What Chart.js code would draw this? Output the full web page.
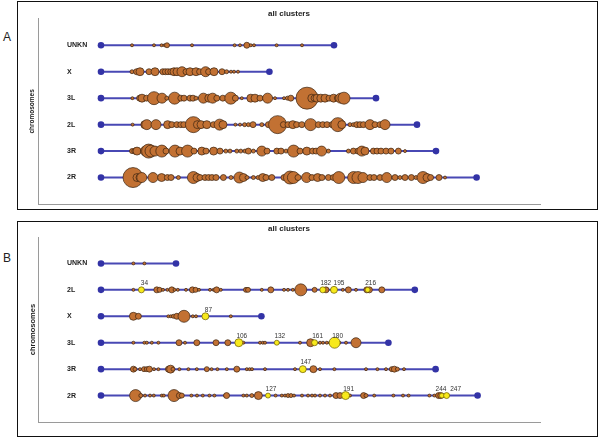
<!DOCTYPE html>
<html>
<head>
<meta charset="utf-8">
<script src="https://cdn.jsdelivr.net/npm/chart.js@4.4.0/dist/chart.umd.min.js"></script>
<style>
  body { margin: 0; background: #fff; width: 600px; height: 439px; position: relative; overflow: hidden;
         font-family: 'Liberation Sans', Arial, sans-serif; }
  .panel { position: absolute; left: 17px; width: 579px; border: 1.6px solid #111; }
  #panelA { top: 0.5px; height: 207px; }
  #panelB { top: 220.5px; height: 214.5px; }
  .tag { position: absolute; left: 3px; font-size: 12px; color: #222; }
  canvas { position: absolute; }
</style>
</head>
<body>
<div class="panel" id="panelA"></div>
<div class="panel" id="panelB"></div>
<div class="tag" style="top:29.5px">A</div>
<div class="tag" style="top:250.5px">B</div>
<canvas id="chartA" width="578" height="207" style="left:18px;top:1px"></canvas>
<canvas id="chartB" width="578" height="215" style="left:18px;top:221px"></canvas>
<script>
// positions are along each chromosome (arbitrary units, 0 = start), second value = cluster size (radius)
const rowsA = ['UNKN', 'X', '3L', '2L', '3R', '2R'];
const lenA = [116.5, 84.2, 137.5, 158, 167.5, 187.8];

const a_UNKN = [[15.5,1.5],[26.5,1.5],[30.3,1.5],[31.8,1.5],[33,2.5],[45.5,1.5],[66.8,1.5],[69.5,1.5],[72.9,3],[74.9,1.5],[76.5,1.5],[87.8,1.5],[100.5,1.5]];
const a_X = [[15.5,2],[17.8,3],[19.5,4],[24,3],[27,4],[30.9,3],[32.2,3],[33.5,3],[34.9,3],[36.5,4],[38,4],[40.5,5],[42.5,3],[44.5,4],[47.5,4],[49.3,3],[52.3,5],[53.8,3],[56.5,4],[60.5,3],[62.8,2],[65,1.5],[66.5,1.5],[68.5,1.5]];
const a_3L = [[15.7,1.5],[19.3,3],[20.5,4],[22.8,3],[26.5,6.5],[30.5,5],[32.9,2],[36.8,6],[39.9,3],[41.5,3],[44.5,3],[46,3],[47.5,2],[51.2,5],[53.9,4],[55.8,5],[57.9,3],[60.9,3],[64.9,6],[67.2,3],[70.4,1.5],[74.9,4],[77,4],[79.5,3],[83.3,5],[87,1.5],[91.5,1.5],[93.2,2],[94.9,3],[103,11],[105.4,4],[106.5,3],[108,4],[109.9,4],[112,4],[114,3],[116.3,4],[118.2,3],[119.8,5],[121.5,6]];
const a_2L = [[15.8,1.5],[21.9,4],[22.9,5],[27.5,5],[33.3,4],[35.4,3],[37.9,3],[39.9,3],[41.4,3],[46.2,8],[48.2,4],[50,4],[52.9,4],[56.2,3],[59.3,5.5],[61,4],[67.2,1.5],[69.5,1.5],[71.8,2],[73.7,2],[76,3],[80.4,2],[83.7,3],[88.3,9],[91.2,3],[93.5,3],[95.9,4],[97.8,3],[100.4,3],[104.8,6],[108.7,3],[110.9,3],[113,3],[115.5,3],[118.4,7],[120.4,4],[124.5,2],[126.2,2],[127.9,3],[129.5,3],[131.2,3],[134.5,5],[137,3],[139.5,3],[142,5]];
const a_3R = [[15.5,2.5],[16.9,3],[18,4],[22.2,5],[23.8,7],[25,6],[27,5],[30.4,6],[32.5,3],[37,6],[39.5,4],[43.3,6],[46.5,3],[50.4,4],[52.5,3],[56.3,4],[59.5,3],[62.4,2],[64.5,2],[67.9,2],[69.9,2],[72,2],[73.7,3],[76.2,2],[80.4,5],[83,3],[87.9,3],[90,3],[92.5,2],[96.3,6],[99.5,3],[102.9,4],[105.8,3],[107.5,3],[110.3,5],[113.7,2],[123.7,2],[126.2,3],[128.5,3],[130.4,5],[132,4],[136.2,3],[138,3],[140,3],[142.5,3],[145,3],[148.7,3],[152,1.5]];
const a_2R = [[16,10],[18,4],[19.5,4],[20.4,5],[26,5],[30.3,4],[33.2,3],[35,3],[38.7,2],[46.2,6],[48,4],[49.5,3],[52,3],[53.8,3],[55.5,3],[57.5,3],[61.2,3],[65,2],[69.2,5.5],[71.2,4],[73,2],[76.2,2],[78.5,2],[80.9,4],[82.5,3],[85.4,3],[91.5,3],[94.5,6.5],[96.2,6],[98.5,3],[102.8,5],[105.5,3],[108.3,4],[110.5,3],[113.7,3],[116.2,3],[118.9,6],[126.3,6],[128.5,6],[131,5],[134.5,3],[136.5,3],[139.5,3],[142.9,5],[147,3],[149.5,2],[152,3],[155.2,3],[157.5,2],[161,6],[163,4],[164.8,3],[169,3],[172,1.5]];

const rowsB = ['UNKN', '2L', 'X', '3L', '3R', '2R'];
const lenB = [37.5, 156.9, 80.2, 143.7, 167.3, 188.3];

const b_UNKN = [[16.2,1.5],[21.7,1.5]];
const b_2L = [[16.2,1.5],[27.9,3],[29.3,2.5],[31,1.5],[33.2,1.5],[35.4,3],[36.8,1.5],[38.4,1.5],[42.5,1.5],[45.7,3],[47.3,2.5],[49,1.5],[54.5,1.5],[56.3,1.5],[57.8,3],[59.9,1.5],[72.5,2.5],[73.5,2.5],[80.4,1.5],[84.9,3],[91.5,1.5],[93.5,1.5],[95.9,1.5],[99.9,6],[106.8,2.5],[112.5,3],[120.9,1.5],[123.7,3],[127.5,1.5],[132.9,3],[134.2,3],[140.4,3]];
const b_X = [[16.2,4],[18.7,3],[33.7,1.5],[34.9,1.5],[36.2,2],[37.9,3],[41.5,6],[45.9,1.5],[47.5,1.5],[64.9,1.5]];
const b_3L = [[16.2,1.5],[21.7,1.5],[22.9,1.5],[25.4,1.5],[28.7,1.5],[39,3],[42,1.5],[47.9,3],[57.5,3],[63.4,3],[71.2,1.5],[79.5,1.5],[80.9,1.5],[82,1.5],[99.5,1.5],[104.8,4],[109.5,1.5],[111,1.5],[112.9,1.5],[114.5,1.5],[119.2,1.5],[122.5,1.5],[127.5,5]];
const b_3R = [[16.2,3],[17,2],[19.5,1.5],[21.5,2.5],[22.9,2.5],[24.2,3],[26.5,1.5],[28.7,1.5],[33.7,3],[34.8,4],[36,2],[39.2,1.5],[43.7,1.5],[47.9,1.5],[52.9,2.5],[55.3,1.5],[58.2,1.5],[62.9,1.5],[67.9,3],[72.9,1.5],[74.3,1.5],[75.5,1.5],[82,1.5],[97,1.5],[106.2,3.5],[109.5,1.5],[116.7,1.5],[132.5,1.5],[138.2,1.5],[142.5,1.5],[145.4,2.5],[146.7,3],[148.2,2],[151.5,1.5]];
const b_2R = [[17.3,6],[19.9,2],[22,1.5],[24.5,1.5],[26.4,1.5],[30.4,1.5],[31.4,1.5],[36.5,6],[39.2,3],[40.4,2.5],[45.2,1.5],[48,1.5],[50.9,1.5],[54.2,1.5],[56.7,1.5],[62,1.5],[62.8,3],[71.2,1.5],[72.9,1.5],[75.4,2],[78.7,4],[87.3,1.5],[90.4,1.5],[92,1.5],[93.5,2],[95,2],[96.5,1.5],[100.5,1.5],[103.5,1.5],[105.5,1.5],[107,1.5],[109.5,1.5],[112,1.5],[114.5,1.5],[117.5,3],[119.5,3],[124.5,1.5],[131.3,3],[132.5,2],[136.6,1.5],[146.2,1.5],[151,1.5],[153.8,1.5],[164.2,1.5],[166.7,1.5],[168.8,3],[169.9,3]];

// highlighted clusters in panel B
const clusterIds   = [34, 182, 195, 216, 87, 106, 132, 161, 180, 147, 127, 191, 244, 247];
const clusterChrom = ['2L','2L','2L','2L','X','3L','3L','3L','3L','3R','2R','2R','2R','2R'];
const clusterPos   = [20.2, 110.9, 116.5, 133.3, 52.2, 68.9, 87.9, 106.8, 116.8, 100.9, 83.5, 122.3, 170.5, 172.8];
const clusterSize  = [3, 3, 3.5, 2.5, 3.5, 4, 2.5, 3, 5.5, 3.5, 2.5, 4, 2.5, 3];

const F = "'Liberation Sans', Arial, sans-serif";
const BROWN = '#C27133';
const LINE = '#4848b4';
const DOT = '#3333a6';

function bubbles(rowArrays) {
  let out = [];
  rowArrays.forEach((arr, i) => arr.forEach(p => out.push({x: p[0], y: i, r: p[1]})));
  return out;
}

function chromLines(rows, lens) {
  return rows.map((c, i) => ({
    type: 'line',
    data: [{x: 0, y: i}, {x: lens[i], y: i}],
    borderColor: LINE,
    borderWidth: 2,
    pointRadius: 3.3,
    pointBackgroundColor: DOT,
    pointBorderWidth: 0,
    order: 3
  }));
}

// nudge a few labels so neighbouring ids don't run together
const labelNudge = {195: 2, 244: -4, 247: 6};

const idLabels = {
  id: 'idLabels',
  afterDatasetsDraw(chart) {
    const idx = chart.data.datasets.findIndex(d => d.label === 'selected');
    if (idx < 0) return;
    const meta = chart.getDatasetMeta(idx);
    const ctx = chart.ctx;
    ctx.save();
    ctx.font = '6.5px ' + F;
    ctx.fillStyle = '#333';
    ctx.textAlign = 'center';
    ctx.textBaseline = 'middle';
    meta.data.forEach((el, i) => {
      const id = clusterIds[i];
      ctx.fillText(String(id), el.x + 3 + (labelNudge[id] || 0), el.y - 6.5);
    });
    ctx.restore();
  }
};

function makeChart(id, rows, lens, datasets, o) {
  return new Chart(document.getElementById(id), {
    type: 'bubble',
    data: {datasets: chromLines(rows, lens).concat(datasets)},
    plugins: o.plugins || [],
    options: {
      responsive: false,
      animation: false,
      devicePixelRatio: 1,
      events: [],
      layout: {autoPadding: false, padding: {left: 10, right: 56, top: 0, bottom: o.bottom}},
      plugins: {
        legend: {display: false},
        tooltip: {enabled: false},
        title: {
          display: true, text: 'all clusters', fullSize: false,
          font: {size: 8, weight: 'bold', family: F}, color: '#222',
          padding: {top: o.titleTop, bottom: o.titleBottom}
        }
      },
      scales: {
        x: {
          type: 'linear', min: -31.5, max: 219.5,
          ticks: {display: false},
          grid: {display: false, drawTicks: false},
          border: {color: '#9a9a9a'},
          afterFit: s => { s.height = 0; s.paddingLeft = 0; s.paddingRight = 0; }
        },
        y: {
          type: 'linear', min: -1, max: 6, reverse: true,
          afterBuildTicks: s => { s.ticks = rows.map((_, i) => ({value: i})); },
          ticks: {mirror: true, padding: 29, callback: v => rows[v],
                  font: {size: 7, weight: 'bold', family: F}, color: '#222'},
          grid: {display: false, drawTicks: false},
          border: {color: '#9a9a9a'},
          title: {display: true, text: 'chromosomes', color: '#222',
                  font: {size: o.axisFont, weight: 'bold', family: F},
                  padding: {top: 0, bottom: 0}},
          afterFit: s => { s.width = 10; s.paddingTop = 0; s.paddingBottom = 0; }
        }
      }
    }
  });
}

makeChart('chartA', rowsA, lenA, [{
  data: bubbles([a_UNKN, a_X, a_3L, a_2L, a_3R, a_2R]),
  backgroundColor: BROWN, borderColor: '#3a2210', borderWidth: 0.7, order: 1
}], {bottom: 4, titleTop: 8.2, titleBottom: 0, axisFont: 6.5});

makeChart('chartB', rowsB, lenB, [{
  data: bubbles([b_UNKN, b_2L, b_X, b_3L, b_3R, b_2R]),
  backgroundColor: BROWN, borderColor: '#3a2210', borderWidth: 0.7, order: 1
}, {
  label: 'selected',
  data: clusterPos.map((p, i) => ({x: p, y: rowsB.indexOf(clusterChrom[i]), r: clusterSize[i]})),
  backgroundColor: '#F7E91C', borderColor: '#6a5a00', borderWidth: 0.7, order: 0
}], {bottom: 14, titleTop: 3.2, titleBottom: 3.2, axisFont: 7.5, plugins: [idLabels]});
</script>
</body>
</html>
